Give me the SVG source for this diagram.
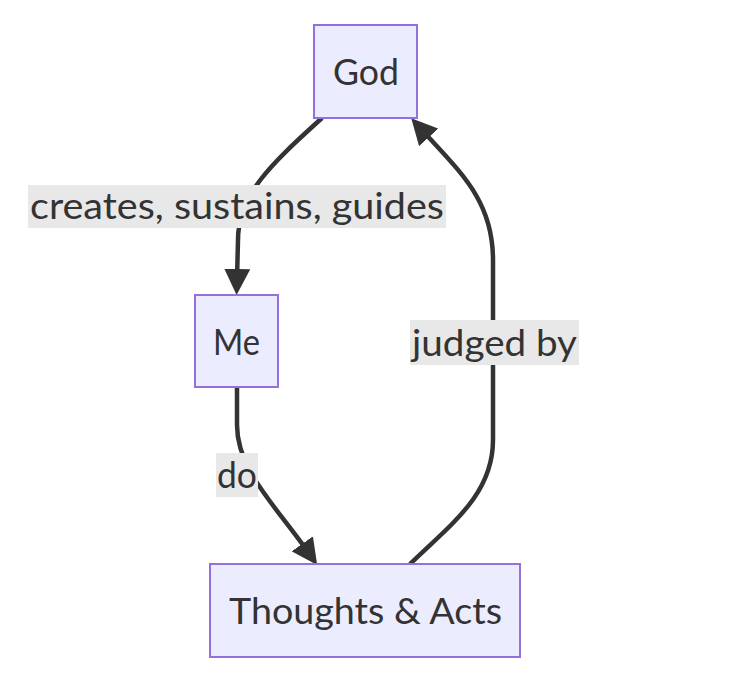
<svg xmlns="http://www.w3.org/2000/svg" width="729" height="682" viewBox="0 0 729 682">
<defs>
<style>
.node rect{fill:#ECECFF;stroke:#9370DB;stroke-width:2}
.node text,.lbl text{font-family:Lato,"Liberation Sans",sans-serif;font-size:36px;fill:#333;text-anchor:middle;dominant-baseline:central}
.edge{fill:none;stroke:#333;stroke-width:4.5}
.lbl rect{fill:#e8e8e8}
</style>
<marker id="arr" markerUnits="userSpaceOnUse" viewBox="0 0 26 26" refX="10" refY="13" markerWidth="26" markerHeight="26" orient="auto">
<path d="M0,0 L26,13 L0,26 z" fill="#333"/>
</marker>
</defs>
<rect width="729" height="682" fill="#fff"/>
<g id="edges">
<path class="edge" d="M322,118 C270,165 238,195 238,240 L237,279" marker-end="url(#arr)"/>
<path class="edge" d="M237,387 L237,425 C237,470 275,505 308,552" marker-end="url(#arr)"/>
<path class="edge" d="M410,564 C450,525 493,495 493,440 L493,260 C493,200 460,172 422,130" marker-end="url(#arr)"/>
</g>
<g id="labels">
<g class="lbl" id="lbl-creates"><rect x="28" y="185" width="418" height="43"/><text x="237" y="205" textLength="414" lengthAdjust="spacingAndGlyphs">creates, sustains, guides</text></g>
<g class="lbl" id="lbl-do"><rect x="216" y="453" width="42" height="44"/><text x="237" y="474" textLength="40" lengthAdjust="spacingAndGlyphs">do</text></g>
<g class="lbl" id="lbl-judged"><rect x="410" y="320" width="169" height="45"/><text x="494.5" y="342" textLength="165" lengthAdjust="spacingAndGlyphs">judged by</text></g>
</g>
<g class="node" id="God"><rect x="314" y="25" width="103" height="93"/><text x="366" y="71" textLength="66" lengthAdjust="spacingAndGlyphs">God</text></g>
<g class="node" id="Me"><rect x="195" y="295" width="83" height="92"/><text x="236.5" y="341" textLength="47" lengthAdjust="spacingAndGlyphs">Me</text></g>
<g class="node" id="Thoughts"><rect x="210" y="564" width="310" height="93"/><text x="365.5" y="610" textLength="273" lengthAdjust="spacingAndGlyphs">Thoughts &amp; Acts</text></g>
</svg>
